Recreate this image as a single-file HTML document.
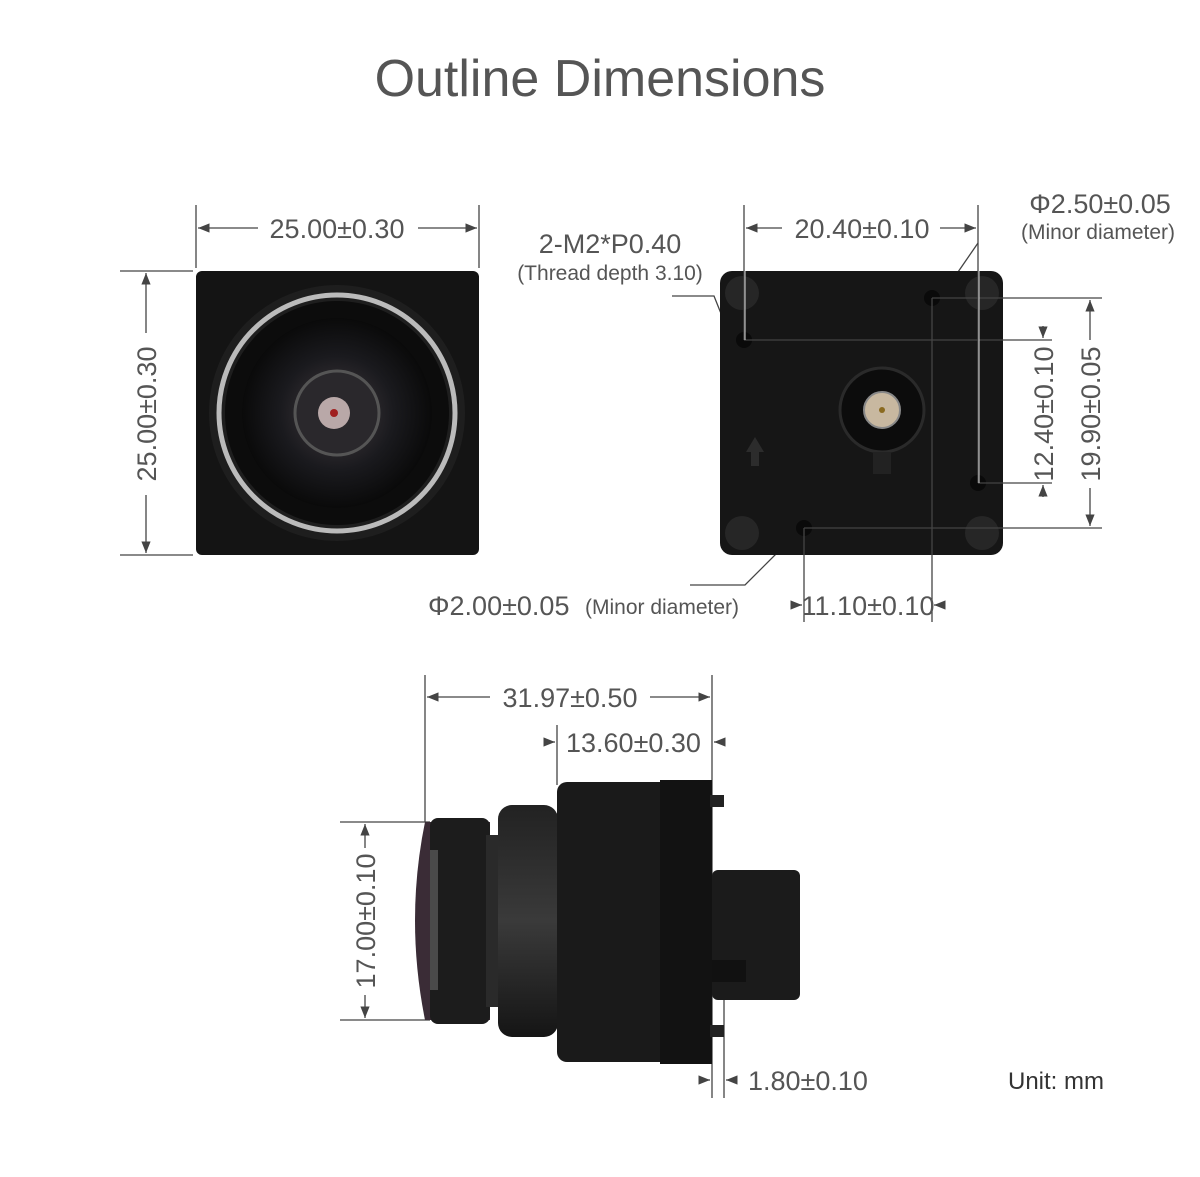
<!DOCTYPE html>
<html><head><meta charset="utf-8"><style>
html,body{margin:0;padding:0;background:#fff;}
svg{display:block;font-family:"Liberation Sans",sans-serif;}
</style></head><body>
<svg width="1200" height="1177" viewBox="0 0 1200 1177" xmlns="http://www.w3.org/2000/svg">
<defs>
<marker id="a" viewBox="0 0 10 10" refX="10" refY="5" markerWidth="9" markerHeight="9" orient="auto-start-reverse"><path d="M0,1 L10,5 L0,9 z" fill="#444"/></marker>
<radialGradient id="lens" cx="50%" cy="50%" r="50%"><stop offset="0" stop-color="#8a7a7a"/><stop offset="0.15" stop-color="#3a3438"/><stop offset="0.6" stop-color="#1a1a1e"/><stop offset="1" stop-color="#0a0a0a"/></radialGradient>
<linearGradient id="side" x1="0" y1="0" x2="0" y2="1"><stop offset="0" stop-color="#222"/><stop offset="0.5" stop-color="#3a3a3a"/><stop offset="1" stop-color="#151515"/></linearGradient>
</defs>
<text x="600" y="96" font-size="52" fill="#555" text-anchor="middle">Outline Dimensions</text>

<g stroke="#444" stroke-width="1.3" fill="none">
<line x1="196" y1="205" x2="196" y2="268"/><line x1="479" y1="205" x2="479" y2="268"/>
<line x1="198" y1="228" x2="258" y2="228" marker-start="url(#a)"/><line x1="418" y1="228" x2="477" y2="228" marker-end="url(#a)"/>
<line x1="120" y1="271" x2="193" y2="271"/><line x1="120" y1="555" x2="193" y2="555"/>
<line x1="146" y1="273" x2="146" y2="333" marker-start="url(#a)"/><line x1="146" y1="495" x2="146" y2="553" marker-end="url(#a)"/>
<line x1="744" y1="205" x2="744" y2="340"/><line x1="978" y1="205" x2="978" y2="483"/>
<line x1="746" y1="228" x2="782" y2="228" marker-start="url(#a)"/><line x1="940" y1="228" x2="976" y2="228" marker-end="url(#a)"/>
<line x1="744" y1="340" x2="1052" y2="340"/>
<line x1="932" y1="298" x2="1102" y2="298"/><line x1="932" y1="298" x2="932" y2="622"/>
<line x1="978" y1="483" x2="1052" y2="483"/>
<line x1="804" y1="528" x2="1102" y2="528"/><line x1="804" y1="528" x2="804" y2="622"/>
<line x1="1043" y1="326" x2="1043" y2="338" marker-end="url(#a)"/><line x1="1043" y1="485" x2="1043" y2="497" marker-start="url(#a)"/>
<line x1="1090" y1="300" x2="1090" y2="340" marker-start="url(#a)"/><line x1="1090" y1="488" x2="1090" y2="526" marker-end="url(#a)"/>
<line x1="792" y1="605" x2="802" y2="605" marker-end="url(#a)"/><line x1="944" y1="605" x2="934" y2="605" marker-end="url(#a)"/>
<polyline points="978,243 958,272"/><polyline points="672,296 714,296 722,316"/>
<polyline points="690,585 745,585 785,545"/>
<line x1="425" y1="675" x2="425" y2="822"/><line x1="712" y1="675" x2="712" y2="1098"/>
<line x1="557" y1="725" x2="557" y2="785"/><line x1="724" y1="1000" x2="724" y2="1098"/>
<line x1="427" y1="697" x2="490" y2="697" marker-start="url(#a)"/><line x1="650" y1="697" x2="710" y2="697" marker-end="url(#a)"/>
<line x1="545" y1="742" x2="555" y2="742" marker-end="url(#a)"/><line x1="724" y1="742" x2="714" y2="742" marker-end="url(#a)"/>
<line x1="340" y1="822" x2="430" y2="822"/><line x1="340" y1="1020" x2="430" y2="1020"/>
<line x1="365" y1="824" x2="365" y2="848" marker-start="url(#a)"/><line x1="365" y1="995" x2="365" y2="1018" marker-end="url(#a)"/>
<line x1="700" y1="1080" x2="710" y2="1080" marker-end="url(#a)"/><line x1="737" y1="1080" x2="726" y2="1080" marker-end="url(#a)"/>
</g>

<g fill="#555" font-size="27">
<text x="337" y="238" text-anchor="middle">25.00±0.30</text>
<text transform="translate(156,414) rotate(-90)" text-anchor="middle">25.00±0.30</text>
<text x="862" y="238" text-anchor="middle">20.40±0.10</text>
<text x="1100" y="213" text-anchor="middle">Φ2.50±0.05</text>
<text x="610" y="253" text-anchor="middle">2-M2*P0.40</text>
<text transform="translate(1053,414) rotate(-90)" text-anchor="middle">12.40±0.10</text>
<text transform="translate(1100,414) rotate(-90)" text-anchor="middle">19.90±0.05</text>
<text x="428" y="615">Φ2.00±0.05</text>
<text x="868" y="615" text-anchor="middle">11.10±0.10</text>
<text x="570" y="707" text-anchor="middle">31.97±0.50</text>
<text x="566" y="752">13.60±0.30</text>
<text transform="translate(375,921) rotate(-90)" text-anchor="middle">17.00±0.10</text>
<text x="748" y="1090">1.80±0.10</text>
<text x="1008" y="1089" font-size="24" fill="#333">Unit: mm</text>
</g>
<g fill="#555" font-size="21">
<text x="1098" y="239" text-anchor="middle">(Minor diameter)</text>
<text x="610" y="280" text-anchor="middle">(Thread depth 3.10)</text>
<text x="585" y="614">(Minor diameter)</text>
</g>

<rect x="196" y="271" width="283" height="284" rx="6" fill="#141414"/>
<circle cx="337" cy="413" r="128" fill="#1e1e1e"/>
<circle cx="337" cy="413" r="118" fill="none" stroke="#bbb" stroke-width="5"/>
<circle cx="337" cy="413" r="112" fill="#0c0c0c"/>
<circle cx="337" cy="413" r="95" fill="url(#lens)"/>
<circle cx="337" cy="413" r="42" fill="#2a282c" stroke="#555" stroke-width="3"/>
<circle cx="334" cy="413" r="16" fill="#b9a8a8"/><circle cx="334" cy="413" r="4" fill="#a02020"/>

<rect x="720" y="271" width="283" height="284" rx="12" fill="#161616"/>
<circle cx="742" cy="293" r="17" fill="#262626"/><circle cx="982" cy="293" r="17" fill="#262626"/>
<circle cx="742" cy="533" r="17" fill="#262626"/><circle cx="982" cy="533" r="17" fill="#262626"/>
<circle cx="744" cy="340" r="8" fill="#0a0a0a"/><circle cx="932" cy="298" r="8" fill="#0a0a0a"/>
<circle cx="978" cy="483" r="8" fill="#0a0a0a"/><circle cx="804" cy="528" r="8" fill="#0a0a0a"/>
<circle cx="882" cy="410" r="42" fill="#0c0c0c" stroke="#2a2a2a" stroke-width="3"/>
<circle cx="882" cy="410" r="18" fill="#c8b8a0" stroke="#888" stroke-width="2"/>
<circle cx="882" cy="410" r="3" fill="#8a6a20"/>
<rect x="873" y="452" width="18" height="22" fill="#222"/>
<path d="M755 437 L746 452 L764 452 Z M751 452 h8 v14 h-8z" fill="#2c2c2c"/>
<g stroke="#444" stroke-width="1.3"><line x1="744" y1="271" x2="744" y2="340"/><line x1="978" y1="271" x2="978" y2="483"/>
<line x1="744" y1="340" x2="1003" y2="340"/><line x1="932" y1="298" x2="1003" y2="298"/><line x1="978" y1="483" x2="1003" y2="483"/><line x1="804" y1="528" x2="1003" y2="528"/>
<line x1="932" y1="298" x2="932" y2="555"/><line x1="804" y1="528" x2="804" y2="555"/></g>
<g stroke="#ddd" stroke-width="1"><line x1="745" y1="271" x2="745" y2="340"/><line x1="979" y1="271" x2="979" y2="483"/></g>

<path d="M425 822 Q405 920 425 1020 L490 1020 L490 822 Z" fill="#3a2c36"/>
<rect x="430" y="818" width="60" height="206" rx="8" fill="#1c1c1c"/>
<rect x="486" y="835" width="12" height="172" fill="#2a2a2a"/>
<rect x="498" y="805" width="60" height="232" rx="14" fill="url(#side)"/>
<rect x="557" y="782" width="155" height="280" rx="10" fill="#1a1a1a"/>
<rect x="660" y="780" width="52" height="284" fill="#121212"/>
<rect x="710" y="795" width="14" height="12" fill="#222"/><rect x="710" y="1025" width="14" height="12" fill="#222"/>
<rect x="712" y="870" width="88" height="130" rx="6" fill="#1b1b1b"/>
<rect x="712" y="960" width="34" height="22" fill="#111"/>
<rect x="430" y="850" width="8" height="140" fill="#4a4a4a"/>
</svg>
</body></html>
